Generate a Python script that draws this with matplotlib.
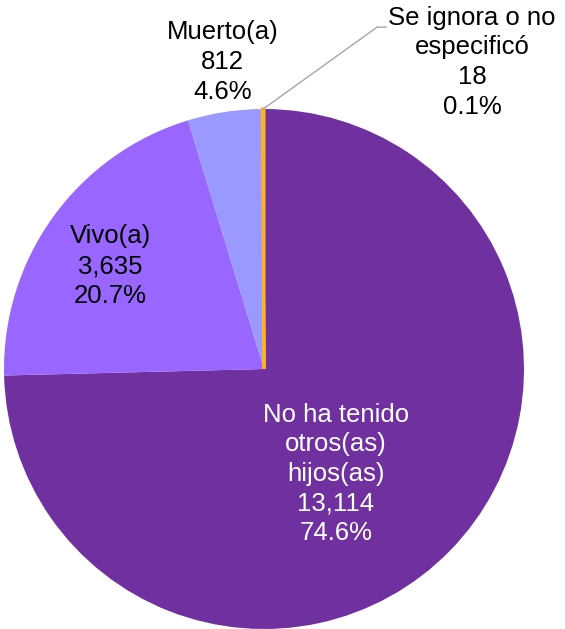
import numpy as np
import matplotlib.pyplot as plt

plt.rcParams["font.family"] = ["Liberation Sans", "DejaVu Sans"]

categories = ["No ha tenido\notros(as)\nhijos(as)", "Vivo(a)", "Muerto(a)", "Se ignora o no\nespecificó"]
counts = [13114, 3635, 812, 18]
percents = [74.6, 20.7, 4.6, 0.1]
colors = ["#7030A0", "#9966FF", "#9999FF", "#FBB323"]
text_colors = ["white", "black", "black", "black"]

# label positions (data units, pie radius = 1)
label_pos = [(0.277, -0.404), (-0.59, 0.396), (-0.16, 1.18), (0.80, 1.18)]


def main():
    fig = plt.figure(figsize=(5.65, 6.29), dpi=100)
    ax = fig.add_axes([4 / 565, 0, 520 / 565, 520 / 629])

    wedges, _ = ax.pie(
        counts,
        colors=colors,
        startangle=90,
        counterclock=False,
        radius=1,
        wedgeprops={"linewidth": 0},
    )
    # the tiny slice gets an edge so it stays visible
    wedges[3].set_edgecolor(colors[3])
    wedges[3].set_linewidth(2.2)

    for i, (x, y) in enumerate(label_pos):
        txt = f"{categories[i]}\n{counts[i]:,}\n{percents[i]:.1f}%"
        ax.text(x, y, txt, ha="center", va="center", fontsize=18.5,
                linespacing=1.3, color=text_colors[i])

    # leader line for the tiny slice
    w = wedges[3]
    ang = np.deg2rad((w.theta1 + w.theta2) / 2)
    ax.plot([np.cos(ang), 0.435, 0.47], [np.sin(ang), 1.315, 1.315],
            color="#A6A6A6", linewidth=1, clip_on=False)

    ax.set_xlim(-1, 1)
    ax.set_ylim(-1, 1)
    ax.set_aspect("equal")
    ax.axis("off")

    fig.savefig("out.png", dpi=100)


if __name__ == "__main__":
    main()
